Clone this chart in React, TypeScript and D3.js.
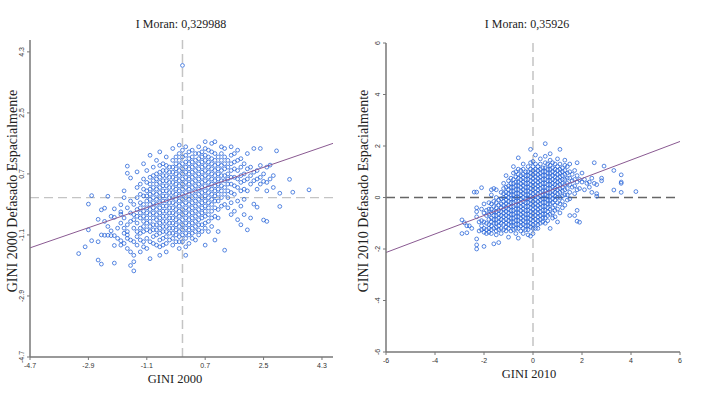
import React from "react";
import * as d3 from "d3";

// Moran scatter data, columns of [x, lagged values]
const gini2000: [number, number[]][] = [
  [-3.2, [-1.65]],
  [-3.0, [-1.45]],
  [-2.9, [-0.19, -0.95]],
  [-2.8, [0.06, -1.27]],
  [-2.6, [-0.64, -1.84, -1.3]],
  [-2.5, [-0.36, -1.96, -1.1]],
  [-2.4, [-0.31, -1.11, -0.7]],
  [-2.3, [0.04, -1.11, -0.85]],
  [-2.2, [-0.98, -1.12, -0.55]],
  [-2.1, [-0.33, -0.58, -1.12, -1.41, -1.93]],
  [-2.0, [-1.2, -0.9]],
  [-1.9, [-0.21, -0.42, -0.49, -1.27, -1.4, -0.75]],
  [-1.8, [0.2, 0.0, -1.35, -0.6, -0.9, -1.05]],
  [-1.7, [0.72, 0.93, -0.3, -0.8, -1.0, -1.2, -1.5, -1.1]],
  [-1.6, [0.58, -0.1, -0.45, -0.7, -1.25, -1.6, -2.0]],
  [-1.5, [-0.2, -0.5, -0.65, -0.9, -1.3, -2.16, -1.89, -1.7]],
  [-1.4, [0.76, 0.3, 0.0, -0.35, -0.55, -0.75, -1.0, -1.15, -1.4]],
  [-1.3, [0.4, 0.1, -0.15, -0.3, -0.45, -0.6, -0.9, -1.05, -1.25, -1.6]],
  [-1.2, [1.0, 0.55, 0.25, 0.05, -0.2, -0.4, -0.55, -0.7, -0.85, -1.0, -1.3, -1.45]],
  [-1.1, [0.8, 0.45, 0.2, 0.05, -0.1, -0.3, -0.45, -0.6, -0.75, -0.95, -1.2, -1.5]],
  [-1.0, [1.25, 0.6, 0.4, 0.25, 0.1, -0.05, -0.2, -0.35, -0.5, -0.7, -0.85, -1.0, -1.3, -1.8]],
  [-0.9, [0.9, 0.65, 0.5, 0.3, 0.15, 0.0, -0.15, -0.3, -0.45, -0.6, -0.8, -0.95, -1.15, -1.35]],
  [-0.8, [1.1, 0.7, 0.55, 0.4, 0.25, 0.1, -0.05, -0.2, -0.35, -0.5, -0.65, -0.8, -0.95, -1.1, -1.4]],
  [-0.7, [1.35, 0.95, 0.75, 0.6, 0.45, 0.3, 0.15, 0.0, -0.15, -0.3, -0.45, -0.6, -0.75, -0.9, -1.05, -1.25, -1.45, -1.7]],
  [-0.6, [1.0, 0.8, 0.65, 0.5, 0.35, 0.2, 0.05, -0.1, -0.25, -0.4, -0.55, -0.7, -0.85, -1.0, -1.2, -1.4]],
  [-0.5, [1.2, 0.95, 0.8, 0.65, 0.5, 0.35, 0.2, 0.05, -0.1, -0.25, -0.4, -0.55, -0.7, -0.85, -1.0, -1.15, -1.35, -1.6]],
  [-0.4, [0.9, 0.75, 0.6, 0.45, 0.3, 0.15, 0.0, -0.15, -0.3, -0.45, -0.6, -0.75, -0.9, -1.05, -1.25]],
  [-0.3, [1.45, 1.1, 0.9, 0.75, 0.6, 0.45, 0.3, 0.15, 0.0, -0.15, -0.3, -0.45, -0.6, -0.75, -0.9, -1.05, -1.2, -1.4]],
  [-0.2, [1.2, 1.0, 0.85, 0.7, 0.55, 0.4, 0.25, 0.1, -0.05, -0.2, -0.35, -0.5, -0.65, -0.8, -0.95, -1.1, -1.3]],
  [-0.1, [1.55, 1.3, 1.1, 0.95, 0.8, 0.65, 0.5, 0.35, 0.2, 0.05, -0.1, -0.25, -0.4, -0.55, -0.7, -0.85, -1.0, -1.15, -1.3, -1.5]],
  [0.0, [3.9, 1.4, 1.2, 1.0, 0.85, 0.7, 0.55, 0.4, 0.25, 0.1, -0.05, -0.2, -0.35, -0.5, -0.65, -0.8, -0.95, -1.1, -1.3]],
  [0.1, [1.5, 1.25, 1.05, 0.9, 0.75, 0.6, 0.45, 0.3, 0.15, 0.0, -0.15, -0.3, -0.45, -0.6, -0.75, -0.9, -1.05, -1.2, -1.45, -1.7]],
  [0.2, [1.35, 1.15, 1.0, 0.85, 0.7, 0.55, 0.4, 0.25, 0.1, -0.05, -0.2, -0.35, -0.5, -0.65, -0.8, -0.95, -1.1, -1.35]],
  [0.3, [1.4, 1.2, 1.05, 0.9, 0.75, 0.6, 0.45, 0.3, 0.15, 0.0, -0.15, -0.3, -0.45, -0.6, -0.75, -0.9, -1.05, -1.2]],
  [0.4, [1.3, 1.1, 0.95, 0.8, 0.65, 0.5, 0.35, 0.2, 0.05, -0.1, -0.25, -0.4, -0.55, -0.7, -0.85, -1.0, -1.25]],
  [0.5, [1.5, 1.3, 1.15, 1.0, 0.85, 0.7, 0.55, 0.4, 0.25, 0.1, -0.05, -0.2, -0.35, -0.5, -0.65, -0.8, -0.95, -1.1]],
  [0.6, [1.35, 1.2, 1.05, 0.9, 0.75, 0.6, 0.45, 0.3, 0.15, 0.0, -0.15, -0.3, -0.45, -0.6, -0.8, -1.0]],
  [0.7, [1.65, 1.45, 1.25, 1.1, 0.95, 0.8, 0.65, 0.5, 0.35, 0.2, 0.05, -0.1, -0.25, -0.4, -0.55, -0.75, -0.9, -1.4]],
  [0.8, [1.4, 1.2, 1.05, 0.9, 0.75, 0.6, 0.45, 0.3, 0.15, 0.0, -0.15, -0.3, -0.5, -0.7, -1.0]],
  [0.9, [1.6, 1.35, 1.15, 1.0, 0.85, 0.7, 0.55, 0.4, 0.25, 0.1, -0.05, -0.2, -0.4, -0.6, -0.85]],
  [1.0, [1.65, 1.3, 1.1, 0.95, 0.8, 0.65, 0.5, 0.35, 0.2, 0.05, -0.1, -0.3, -0.55, -1.25]],
  [1.1, [1.2, 1.0, 0.85, 0.7, 0.55, 0.4, 0.25, 0.1, -0.1, -0.35, -0.6, -1.0]],
  [1.2, [1.5, 1.3, 1.1, 0.95, 0.8, 0.65, 0.5, 0.35, 0.2, 0.0, -0.25]],
  [1.3, [1.45, 1.2, 1.0, 0.85, 0.65, 0.5, 0.3, 0.1, -0.2, -1.55]],
  [1.4, [1.1, 0.9, 0.7, 0.55, 0.4, 0.2, 0.0, -0.3]],
  [1.5, [1.5, 1.25, 1.0, 0.8, 0.6, 0.4, 0.15, -0.15, -0.5]],
  [1.6, [1.3, 1.05, 0.85, 0.6, 0.35, 0.1, -0.4]],
  [1.7, [1.4, 1.1, 0.8, 0.55, 0.3, -0.1, -0.65]],
  [1.8, [1.15, 0.9, 0.65, 0.45, 0.2, -0.25, -0.8]],
  [1.9, [1.0, 0.7, 0.5, 0.25, -0.05, -0.5]],
  [2.0, [1.3, 0.85, 0.55, 0.2, -0.95]],
  [2.1, [0.9, 0.65, 0.4, -0.6]],
  [2.2, [1.45, 0.75, 0.5, -0.19]],
  [2.3, [0.8, 0.55, 0.25, -0.28]],
  [2.4, [1.45, 0.95, 0.6, 0.4]],
  [2.5, [0.7, 0.48, -0.66]],
  [2.6, [0.9, 0.45, 0.2, -0.7]],
  [2.7, [0.96, 0.55]],
  [2.8, [0.65, 0.3]],
  [2.9, [1.38]],
  [3.0, [0.13, -0.26]],
  [3.3, [0.54]],
  [3.4, [0.16]],
  [3.9, [0.23]],
];

const gini2010: [number, number[]][] = [
  [-2.9, [-0.87, -1.4]],
  [-2.8, [-0.98]],
  [-2.7, [-1.37, -1.1]],
  [-2.6, [-1.1]],
  [-2.5, [-1.2]],
  [-2.4, [0.21]],
  [-2.3, [0.21, -0.4, -0.55, -0.75, -1.61, -1.84, -2.0]],
  [-2.2, [-0.95, -1.3]],
  [-2.1, [0.38, -0.45, -0.9, -1.1, -1.25]],
  [-2.0, [-0.25, -0.6, -0.95, -1.2, -1.35, -1.9]],
  [-1.9, [-0.5, -0.7, -1.0, -1.25, -1.4]],
  [-1.8, [-0.2, -0.45, -0.65, -0.85, -1.05, -1.2, -1.35]],
  [-1.7, [0.3, 0.1, -0.25, -0.45, -0.6, -0.8, -0.95, -1.1, -1.25, -1.4]],
  [-1.6, [0.35, -0.15, -0.35, -0.55, -0.7, -0.85, -1.0, -1.2, -1.8]],
  [-1.5, [0.3, 0.0, -0.2, -0.4, -0.55, -0.7, -0.85, -1.0, -1.15, -1.3, -1.45]],
  [-1.4, [-0.1, -0.3, -0.5, -0.65, -0.8, -0.95, -1.1, -1.25, -1.75]],
  [-1.3, [0.2, -0.05, -0.25, -0.4, -0.55, -0.7, -0.85, -1.0, -1.2, -1.4]],
  [-1.2, [0.55, 0.35, 0.15, 0.0, -0.15, -0.3, -0.45, -0.6, -0.75, -0.9, -1.05, -1.25]],
  [-1.1, [0.85, 0.4, 0.2, 0.05, -0.1, -0.25, -0.4, -0.55, -0.7, -0.85, -1.0, -1.15, -1.3]],
  [-1.0, [0.65, 0.45, 0.3, 0.15, 0.0, -0.15, -0.3, -0.45, -0.6, -0.75, -0.9, -1.05, -1.2, -1.54]],
  [-0.9, [0.75, 0.55, 0.4, 0.25, 0.1, -0.05, -0.2, -0.35, -0.5, -0.65, -0.8, -0.95, -1.1, -1.3]],
  [-0.8, [1.2, 0.95, 0.7, 0.55, 0.4, 0.25, 0.1, -0.05, -0.2, -0.35, -0.5, -0.65, -0.8, -0.95, -1.1, -1.25]],
  [-0.7, [1.0, 0.8, 0.6, 0.45, 0.3, 0.15, 0.0, -0.15, -0.3, -0.45, -0.6, -0.75, -0.9, -1.05, -1.2, -1.4]],
  [-0.6, [1.54, 1.1, 0.9, 0.75, 0.6, 0.45, 0.3, 0.15, 0.0, -0.15, -0.3, -0.45, -0.6, -0.75, -0.9, -1.05, -1.2, -1.58]],
  [-0.5, [1.05, 0.85, 0.7, 0.55, 0.4, 0.25, 0.1, -0.05, -0.2, -0.35, -0.5, -0.65, -0.8, -0.95, -1.1, -1.3]],
  [-0.4, [1.3, 1.1, 0.9, 0.75, 0.6, 0.45, 0.3, 0.15, 0.0, -0.15, -0.3, -0.45, -0.6, -0.75, -0.9, -1.05, -1.2, -1.4]],
  [-0.3, [1.0, 0.85, 0.7, 0.55, 0.4, 0.25, 0.1, -0.05, -0.2, -0.35, -0.5, -0.65, -0.8, -0.95, -1.1, -1.25]],
  [-0.2, [1.2, 1.0, 0.85, 0.7, 0.55, 0.4, 0.25, 0.1, -0.05, -0.2, -0.35, -0.5, -0.65, -0.8, -0.95, -1.1, -1.25, -1.45]],
  [-0.1, [1.87, 1.35, 1.1, 0.95, 0.8, 0.65, 0.5, 0.35, 0.2, 0.05, -0.1, -0.25, -0.4, -0.55, -0.7, -0.85, -1.0, -1.15, -1.5]],
  [0.0, [1.4, 1.2, 1.05, 0.9, 0.75, 0.6, 0.45, 0.3, 0.15, 0.0, -0.15, -0.3, -0.45, -0.6, -0.75, -0.9, -1.05, -1.2, -1.4]],
  [0.1, [1.65, 1.3, 1.1, 0.95, 0.8, 0.65, 0.5, 0.35, 0.2, 0.05, -0.1, -0.25, -0.4, -0.55, -0.7, -0.85, -1.0, -1.2]],
  [0.2, [1.2, 1.05, 0.9, 0.75, 0.6, 0.45, 0.3, 0.15, 0.0, -0.15, -0.3, -0.45, -0.6, -0.75, -0.9, -1.05, -1.2]],
  [0.3, [1.5, 1.3, 1.1, 0.95, 0.8, 0.65, 0.5, 0.35, 0.2, 0.05, -0.1, -0.25, -0.4, -0.55, -0.7, -0.85, -1.0]],
  [0.4, [1.15, 1.0, 0.85, 0.7, 0.55, 0.4, 0.25, 0.1, -0.05, -0.2, -0.35, -0.5, -0.65, -0.8, -0.95]],
  [0.5, [2.09, 1.6, 1.35, 1.15, 1.0, 0.85, 0.7, 0.55, 0.4, 0.25, 0.1, -0.05, -0.2, -0.35, -0.5, -0.65, -0.8, -1.0]],
  [0.6, [1.3, 1.1, 0.95, 0.8, 0.65, 0.5, 0.35, 0.2, 0.05, -0.1, -0.25, -0.4, -0.55, -0.7, -0.9]],
  [0.7, [1.7, 1.45, 1.25, 1.1, 0.95, 0.8, 0.65, 0.5, 0.35, 0.2, 0.05, -0.1, -0.25, -0.45, -0.65, -1.2]],
  [0.8, [1.35, 1.15, 1.0, 0.85, 0.7, 0.55, 0.4, 0.25, 0.1, -0.05, -0.2, -0.4, -0.6, -0.8]],
  [0.9, [1.3, 1.1, 0.95, 0.8, 0.65, 0.5, 0.35, 0.2, 0.05, -0.1, -0.3, -0.5, -0.75]],
  [1.0, [1.5, 1.2, 1.05, 0.9, 0.75, 0.6, 0.45, 0.3, 0.15, 0.0, -0.2, -0.45, -0.95]],
  [1.1, [1.87, 1.3, 1.1, 0.95, 0.8, 0.65, 0.5, 0.35, 0.2, 0.0, -0.25, -0.6]],
  [1.2, [1.15, 1.0, 0.85, 0.7, 0.55, 0.4, 0.25, 0.05, -0.15, -0.4]],
  [1.3, [1.45, 1.25, 1.05, 0.9, 0.7, 0.5, 0.3, 0.1, -0.3]],
  [1.4, [1.2, 0.95, 0.75, 0.55, 0.35, 0.1, -0.1]],
  [1.5, [1.3, 1.0, 0.75, 0.5, 0.2, -0.05, -0.7]],
  [1.6, [0.9, 0.65, 0.4]],
  [1.7, [1.05, 0.7, 0.45, 0.15, -0.7]],
  [1.8, [1.35, 0.85, 0.6, 0.3, -0.5, -0.92]],
  [1.9, [0.7, 0.35, -0.96]],
  [2.0, [0.95, 0.6]],
  [2.1, [0.7, 0.3]],
  [2.2, [0.55]],
  [2.3, [0.6, 0.4]],
  [2.4, [0.75, 0.2]],
  [2.5, [1.35, 0.55]],
  [2.6, [0.5, 0.15, 0.05]],
  [2.8, [0.65, 0.75]],
  [2.9, [1.22]],
  [3.3, [1.05, 0.29]],
  [3.6, [0.88, 0.6, 0.55, 0.2]],
  [4.2, [0.23]],
];

const ticks2000 = [-4.7, -2.9, -1.1, 0.7, 2.5, 4.3];
const ticks2010 = [-6, -4, -2, 0, 2, 4, 6];

const moran2000 = 0.329988;
const moran2010 = 0.35926;

type PanelProps = {
  cols: [number, number[]][];
  xDom: [number, number];
  yDom: [number, number];
  xRange: [number, number];
  yRange: [number, number];
  ticks: number[];
  slope: number;
  intercept: number;
  title: string;
  titleX: number;
  xLabel: string;
  xLabelX: number;
  yLabel: string;
  yLabelX: number;
  hDash: string;
};

const serif = "'Liberation Serif', 'Times New Roman', serif";

function Panel(p: PanelProps) {
  const x = d3.scaleLinear().domain(p.xDom).range(p.xRange);
  const y = d3.scaleLinear().domain(p.yDom).range(p.yRange);
  const pts = p.cols.flatMap(([cx, ys]) => ys.map((v) => [cx, v]));
  const [x0, x1] = p.xRange;
  const [yb, yt] = p.yRange;
  const tickFont = { fontFamily: "Arial, 'Liberation Sans', sans-serif", fontSize: 7, fill: "#333" };
  return (
    <g>
      <text x={p.titleX} y={28} textAnchor="middle" fontFamily={serif} fontSize={12} fill="#222">
        {p.title}
      </text>
      {/* reference lines */}
      <line x1={x(0)} x2={x(0)} y1={yt} y2={yb} stroke="#c4c4c4" strokeWidth={1.5} strokeDasharray="9,5" />
      <line x1={x0} x2={x1} y1={y(0)} y2={y(0)} stroke={p.hDash} strokeWidth={1.3} strokeDasharray="9,5" />
      {pts.map(([a, b], i) => (
        <circle key={i} cx={x(a)} cy={y(b)} r={1.9} fill="none" stroke="#2563d8" strokeWidth={0.9} strokeOpacity={0.85} />
      ))}
      <line
        x1={x0}
        x2={x1}
        y1={y(p.slope * p.xDom[0] + p.intercept)}
        y2={y(p.slope * p.xDom[1] + p.intercept)}
        stroke="#8a5a92"
        strokeWidth={1}
      />
      {/* axes */}
      <line x1={x0} x2={x0} y1={yt} y2={yb} stroke="#777" strokeWidth={1.5} />
      <line x1={x0} x2={x1} y1={yb} y2={yb} stroke="#777" strokeWidth={1.5} />
      {p.ticks.map((t) => (
        <g key={"x" + t}>
          <line x1={x(t)} x2={x(t)} y1={yb} y2={yb + 3} stroke="#777" />
          <text x={x(t)} y={yb + 11} textAnchor="middle" {...tickFont}>
            {t}
          </text>
        </g>
      ))}
      {p.ticks.map((t) => (
        <g key={"y" + t}>
          <line x1={x0 - 3} x2={x0} y1={y(t)} y2={y(t)} stroke="#777" />
          <text transform={`translate(${x0 - 6},${y(t)}) rotate(-90)`} textAnchor="middle" {...tickFont}>
            {t}
          </text>
        </g>
      ))}
      <text x={p.xLabelX} y={yb + 26} textAnchor="middle" fontFamily={serif} fontSize={12.5} fill="#222">
        {p.xLabel}
      </text>
      <text
        transform={`translate(${p.yLabelX},191) rotate(-90)`}
        textAnchor="middle"
        fontFamily={serif}
        fontSize={14}
        fill="#222"
      >
        {p.yLabel}
      </text>
    </g>
  );
}

export default function App() {
  return (
    <svg width={707} height={394} style={{ position: "absolute", left: 0, top: 0, background: "#fff" }}>
      <Panel
        cols={gini2000}
        xDom={[-4.7, 4.64]}
        yDom={[-4.7, 4.65]}
        xRange={[30, 333]}
        yRange={[357, 40]}
        ticks={ticks2000}
        slope={moran2000}
        intercept={0.07}
        title="I Moran: 0,329988"
        titleX={181}
        xLabel="GINI 2000"
        xLabelX={175}
        yLabel="GINI 2000 Defasado Espacialmente"
        yLabelX={17}
        hDash="#c4c4c4"
      />
      <Panel
        cols={gini2010}
        xDom={[-6, 6]}
        yDom={[-6, 6]}
        xRange={[386, 680]}
        yRange={[352, 43]}
        ticks={ticks2010}
        slope={moran2010}
        intercept={0.02}
        title="I Moran: 0,35926"
        titleX={527}
        xLabel="GINI 2010"
        xLabelX={529}
        yLabel="GINI 2010 Defasado Espacialmente"
        yLabelX={368}
        hDash="#666"
      />
    </svg>
  );
}
